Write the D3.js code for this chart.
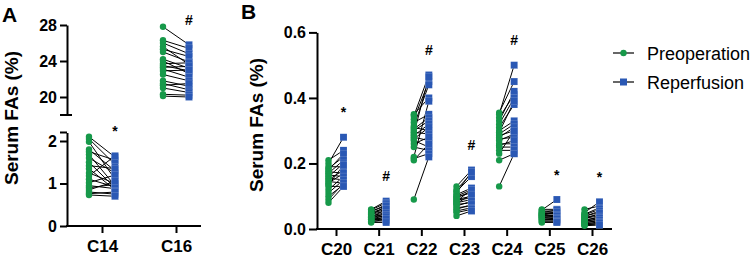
<!DOCTYPE html>
<html><head><meta charset="utf-8">
<script src="https://cdn.jsdelivr.net/npm/d3@7"></script>
<style>
html,body{margin:0;padding:0;background:#fff;}
svg{display:block;font-family:"Liberation Sans",Arial,sans-serif;}
</style></head>
<body><svg id="c" width="754" height="258"></svg>
<script>
// ---------- data ----------
const catsA = ["C14", "C16"];
const catsB = ["C20", "C21", "C22", "C23", "C24", "C25", "C26"];
const seriesNames = ["Preoperation", "Reperfusion"];
const signif = {C14:"*", C16:"#", C20:"*", C21:"#", C22:"#", C23:"#", C24:"#", C25:"*", C26:"*"};
const ticksAUpper = [20, 24, 28];
const ticksALower = [0, 1, 2];
const ticksB = [0.0, 0.2, 0.4, 0.6];

const pre_C14 = [2.1, 2.05, 1.98, 1.8, 1.75, 1.68, 1.6, 1.5, 1.42, 1.35, 1.25, 1.18, 1.1, 1.02, 0.95, 0.9, 0.85, 0.8, 0.76, 0.73];
const rep_C14 = [1.62, 1.45, 1.1, 1.3, 1.55, 0.95, 1.25, 0.9, 1.35, 0.85, 1.0, 1.65, 0.92, 1.2, 0.88, 0.98, 1.05, 0.75, 0.8, 0.7];
const pre_C16 = [27.8, 26.3, 26.0, 25.6, 25.3, 25.0, 24.2, 24.0, 23.7, 23.5, 23.3, 23.1, 22.9, 22.5, 21.8, 21.5, 21.3, 21.0, 20.3, 20.1];
const rep_C16 = [25.8, 25.4, 24.8, 23.6, 24.5, 23.9, 23.2, 22.6, 23.8, 22.9, 23.4, 22.2, 23.0, 21.8, 21.2, 20.8, 21.5, 20.5, 20.2, 20.0];
const pre_C20 = [0.21, 0.20, 0.19, 0.185, 0.18, 0.175, 0.17, 0.165, 0.16, 0.155, 0.15, 0.145, 0.14, 0.135, 0.13, 0.12, 0.11, 0.10, 0.09, 0.08];
const rep_C20 = [0.24, 0.28, 0.19, 0.22, 0.23, 0.17, 0.21, 0.16, 0.2, 0.15, 0.18, 0.14, 0.17, 0.195, 0.13, 0.16, 0.15, 0.135, 0.14, 0.13];
const pre_C21 = [0.06, 0.058, 0.055, 0.052, 0.05, 0.048, 0.045, 0.043, 0.04, 0.038, 0.036, 0.035, 0.033, 0.03, 0.03, 0.028, 0.025, 0.024, 0.022, 0.02];
const rep_C21 = [0.085, 0.08, 0.07, 0.075, 0.065, 0.06, 0.055, 0.07, 0.05, 0.045, 0.06, 0.04, 0.048, 0.035, 0.042, 0.03, 0.038, 0.025, 0.03, 0.02];
const pre_C22 = [0.35, 0.345, 0.335, 0.325, 0.315, 0.31, 0.305, 0.3, 0.295, 0.29, 0.285, 0.28, 0.275, 0.27, 0.26, 0.25, 0.22, 0.215, 0.21, 0.09];
const rep_C22 = [0.40, 0.47, 0.45, 0.35, 0.44, 0.30, 0.34, 0.33, 0.29, 0.465, 0.32, 0.27, 0.31, 0.25, 0.28, 0.24, 0.39, 0.23, 0.26, 0.22];
const pre_C23 = [0.13, 0.12, 0.115, 0.11, 0.105, 0.1, 0.098, 0.095, 0.09, 0.088, 0.085, 0.08, 0.078, 0.075, 0.07, 0.065, 0.06, 0.055, 0.05, 0.04];
const rep_C23 = [0.18, 0.17, 0.16, 0.175, 0.125, 0.12, 0.11, 0.115, 0.1, 0.095, 0.12, 0.09, 0.105, 0.08, 0.085, 0.07, 0.075, 0.065, 0.06, 0.055];
const pre_C24 = [0.355, 0.35, 0.34, 0.33, 0.32, 0.31, 0.3, 0.295, 0.29, 0.285, 0.28, 0.275, 0.27, 0.26, 0.255, 0.25, 0.24, 0.23, 0.21, 0.13];
const rep_C24 = [0.45, 0.50, 0.41, 0.42, 0.40, 0.38, 0.33, 0.39, 0.32, 0.30, 0.31, 0.28, 0.29, 0.26, 0.27, 0.25, 0.24, 0.30, 0.23, 0.23];
const pre_C25 = [0.058, 0.06, 0.055, 0.052, 0.05, 0.048, 0.046, 0.045, 0.043, 0.042, 0.04, 0.038, 0.036, 0.035, 0.033, 0.03, 0.028, 0.025, 0.022, 0.02];
const rep_C25 = [0.09, 0.06, 0.055, 0.05, 0.058, 0.045, 0.048, 0.04, 0.052, 0.038, 0.042, 0.035, 0.03, 0.04, 0.033, 0.028, 0.03, 0.025, 0.022, 0.02];
const pre_C26 = [0.06, 0.05, 0.045, 0.043, 0.04, 0.038, 0.035, 0.033, 0.03, 0.028, 0.025, 0.024, 0.022, 0.02, 0.018, 0.016, 0.015, 0.013, 0.012, 0.01];
const rep_C26 = [0.07, 0.083, 0.065, 0.06, 0.05, 0.055, 0.045, 0.04, 0.048, 0.035, 0.038, 0.03, 0.033, 0.025, 0.028, 0.02, 0.022, 0.015, 0.018, 0.012];

const preData = {C14:pre_C14, C16:pre_C16, C20:pre_C20, C21:pre_C21, C22:pre_C22, C23:pre_C23, C24:pre_C24, C25:pre_C25, C26:pre_C26};
const repData = {C14:rep_C14, C16:rep_C16, C20:rep_C20, C21:rep_C21, C22:rep_C22, C23:rep_C23, C24:rep_C24, C25:rep_C25, C26:rep_C26};

// ---------- style ----------
const GREEN = "#17994a", BLUE = "#2a58b4";
const FONT = "'Liberation Sans', Arial, sans-serif";
const svg = d3.select("#c");

function styleAxis(g, fs) {
  g.selectAll("path.domain").attr("stroke", "#000").attr("stroke-width", 2);
  g.selectAll(".tick line").attr("stroke", "#000").attr("stroke-width", 2);
  g.selectAll(".tick text").attr("fill", "#000").attr("font-size", fs).attr("font-weight", "bold").attr("font-family", FONT);
}

function drawPairs(g, cats, x, yOf, off, sq, r) {
  cats.forEach(c => {
    const p = preData[c], q = repData[c];
    const x0 = x(c) - off, x1 = x(c) + off;
    p.forEach((v, i) => {
      g.append("line").attr("x1", x0).attr("y1", yOf(v)).attr("x2", x1).attr("y2", yOf(q[i]))
        .attr("stroke", "#000").attr("stroke-width", 1);
    });
    q.forEach(v => {
      g.append("rect").attr("x", x1 - sq/2).attr("y", yOf(v) - sq/2).attr("width", sq).attr("height", sq)
        .attr("fill", BLUE).attr("stroke", "rgba(255,255,255,0.45)").attr("stroke-width", 0.3);
    });
    p.forEach(v => {
      g.append("circle").attr("cx", x0).attr("cy", yOf(v)).attr("r", r).attr("fill", GREEN);
    });
    g.append("text").attr("x", x1).attr("y", Math.min(...q.map(yOf)) - 20)
      .attr("text-anchor", "middle").attr("font-size", 14).attr("font-weight", "bold")
      .attr("font-family", FONT).text(signif[c]);
  });
}

// ---------- Panel A ----------
const xA = d3.scalePoint().domain(catsA).range([102, 176]);
const yAU = d3.scaleLinear().domain([18, 28]).range([115, 25]);
const yAL = d3.scaleLinear().domain([0, 2.2]).range([226, 132.5]);
const yA = v => v >= 10 ? yAU(v) : yAL(v);

const gA = svg.append("g");
gA.append("g").attr("transform", "translate(67,0)")
  .call(d3.axisLeft(yAU).tickValues(ticksAUpper).tickFormat(d3.format("d")).tickSize(7).tickPadding(3).tickSizeOuter(0))
  .call(g => styleAxis(g, 16));
gA.append("g").attr("transform", "translate(67,0)")
  .call(d3.axisLeft(yAL).tickValues(ticksALower).tickFormat(d3.format("d")).tickSize(7).tickPadding(3).tickSizeOuter(0))
  .call(g => styleAxis(g, 16));
// break marks
gA.append("line").attr("x1", 60).attr("x2", 72).attr("y1", yAU(18)).attr("y2", yAU(18)).attr("stroke", "#000").attr("stroke-width", 2);
gA.append("line").attr("x1", 60).attr("x2", 67).attr("y1", yAL(2.2)).attr("y2", yAL(2.2)).attr("stroke", "#000").attr("stroke-width", 2);
// x axis
const xAxA = d3.scaleLinear().domain([0, 1]).range([66, 201]);
gA.append("g").attr("transform", "translate(0,226)")
  .call(d3.axisBottom(xA).tickSize(7).tickPadding(7).tickSizeOuter(0))
  .call(g => { styleAxis(g, 17); g.select("path.domain").attr("d", `M${xAxA(0)},0H${xAxA(1)}`); });
drawPairs(gA, catsA, xA, yA, 13, 7, 3.2);
gA.append("text").attr("transform", "translate(18,118) rotate(-90)").attr("text-anchor", "middle")
  .attr("font-size", 19).attr("font-weight", "bold").attr("font-family", FONT).text("Serum FAs (%)");
gA.append("text").attr("x", 2).attr("y", 22).attr("font-size", 21).attr("font-weight", "bold").attr("font-family", FONT).text("A");

// ---------- Panel B ----------
const xB = d3.scalePoint().domain(catsB).range([336, 592]);
const yB = d3.scaleLinear().domain([0, 0.6]).range([229, 32.4]);
const gB = svg.append("g");
gB.append("g").attr("transform", "translate(317,0)")
  .call(d3.axisLeft(yB).tickValues(ticksB).tickFormat(d3.format(".1f")).tickSize(8).tickPadding(3).tickSizeOuter(0))
  .call(g => styleAxis(g, 16));
const xAxB = d3.scaleLinear().domain([0, 1]).range([316, 612]);
gB.append("g").attr("transform", "translate(0,229)")
  .call(d3.axisBottom(xB).tickSize(7).tickPadding(7).tickSizeOuter(0))
  .call(g => { styleAxis(g, 17); g.select("path.domain").attr("d", `M${xAxB(0)},0H${xAxB(1)}`); });
drawPairs(gB, catsB, xB, yB, 7.5, 7, 3.2);
gB.append("text").attr("transform", "translate(263,125) rotate(-90)").attr("text-anchor", "middle")
  .attr("font-size", 19).attr("font-weight", "bold").attr("font-family", FONT).text("Serum FAs (%)");
gB.append("text").attr("x", 241).attr("y", 19).attr("font-size", 21).attr("font-weight", "bold").attr("font-family", FONT).text("B");

// ---------- Legend ----------
const lg = svg.append("g");
seriesNames.forEach((n, i) => {
  const y = 53 + i * 29;
  lg.append("line").attr("x1", 613).attr("x2", 634).attr("y1", y).attr("y2", y).attr("stroke", "#000").attr("stroke-width", 1.2);
  if (i === 0) lg.append("circle").attr("cx", 623.5).attr("cy", y).attr("r", 3.2).attr("fill", GREEN);
  else lg.append("rect").attr("x", 620).attr("y", y - 3.5).attr("width", 7).attr("height", 7).attr("fill", BLUE);
  lg.append("text").attr("x", 647).attr("y", y + 6.5).attr("font-size", 18).attr("font-family", FONT).attr("fill", "#000").text(n);
});
</script></body></html>
